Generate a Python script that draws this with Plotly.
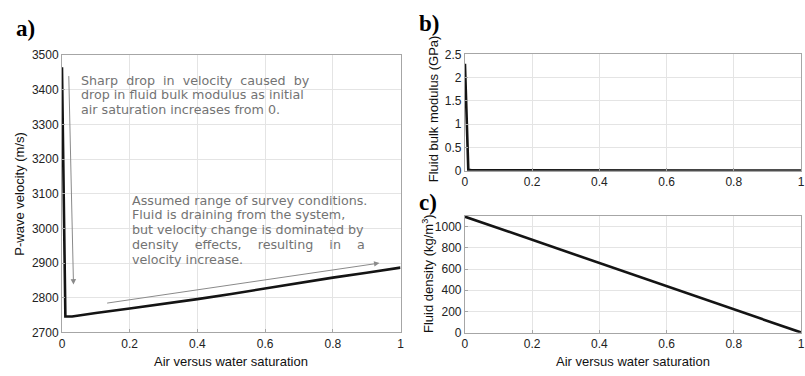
import plotly.graph_objects as go

# ---- data ----
sat_v = [0, 0.01, 0.03, 0.05, 0.1, 0.2, 0.3, 0.4, 0.5, 0.6, 0.7, 0.8, 0.9, 1.0]
vel = [3465, 2746, 2746, 2749, 2756, 2769, 2782, 2796, 2811, 2827, 2842, 2858, 2872, 2887]

sat_k = [0, 0.01, 0.02, 0.2, 0.4, 0.6, 0.8, 1.0]
bulk = [2.3, 0.02, 0.01, 0.005, 0.003, 0.002, 0.0015, 0.001]

sat_r = [0, 0.2, 0.4, 0.6, 0.8, 1.0]
dens = [1093, 875, 656, 437, 219, 2]

x_ticks = [0, 0.2, 0.4, 0.6, 0.8, 1]
x_ticklabels = ["0", "0.2", "0.4", "0.6", "0.8", "1"]
v_ticks = [2700, 2800, 2900, 3000, 3100, 3200, 3300, 3400, 3500]
k_ticks = [0, 0.5, 1, 1.5, 2, 2.5]
k_ticklabels = ["0", "0.5", "1", "1.5", "2", "2.5"]
r_ticks = [0, 200, 400, 600, 800, 1000]

NB = "\u00a0"
note1_lines = [
    "Sharp" + NB + " drop" + NB + " in" + NB + " velocity" + NB + " caused" + NB + " by",
    "drop in fluid bulk modulus as initial",
    "air saturation increases from 0.",
]
note2_lines = [
    "Assumed range of survey conditions.",
    "Fluid is draining from the system,",
    "but velocity change is dominated by",
    "density" + NB * 3 + " effects," + NB * 3 + " resulting" + NB * 3 + " in" + NB * 3 + " a",
    "velocity increase.",
]

W, H = 805, 376
def px(x):
    return x / W
def py(y):
    return 1 - y / H

LINE = dict(color="#141414", width=2.6)
fig = go.Figure()
fig.add_trace(go.Scatter(x=sat_v, y=vel, mode="lines", line=LINE, xaxis="x", yaxis="y", showlegend=False))
fig.add_trace(go.Scatter(x=sat_k, y=bulk, mode="lines", line=LINE, xaxis="x2", yaxis="y2", showlegend=False))
fig.add_trace(go.Scatter(x=sat_r, y=dens, mode="lines", line=LINE, xaxis="x3", yaxis="y3", showlegend=False))

TICKFONT = dict(family="Liberation Sans, Arial", size=12, color="#222")
common = dict(showline=True, mirror=True, linecolor="#a6a6a6", linewidth=1,
              ticks="inside", ticklen=3, tickcolor="#a6a6a6",
              showgrid=True, gridcolor="#e4e4e4", gridwidth=1,
              zeroline=False, tickfont=TICKFONT, fixedrange=True)

fig.update_layout(
    width=W, height=H, margin=dict(l=0, r=0, t=0, b=0),
    paper_bgcolor="white", plot_bgcolor="white",
    xaxis=dict(domain=[px(59.5), px(401)], range=[0, 1], tickvals=x_ticks, ticktext=x_ticklabels, anchor="y", **common),
    yaxis=dict(domain=[py(338), py(50)], range=[2700, 3500], tickvals=v_ticks, anchor="x", **common),
    xaxis2=dict(domain=[px(466), 1.0], range=[0, 1], tickvals=x_ticks, ticktext=x_ticklabels, anchor="y2", **common),
    yaxis2=dict(domain=[py(170), py(49.3)], range=[0, 2.5], tickvals=k_ticks, ticktext=k_ticklabels, anchor="x2", **common),
    xaxis3=dict(domain=[px(466), 1.0], range=[0, 1], tickvals=x_ticks, ticktext=x_ticklabels, anchor="y3", **common),
    yaxis3=dict(domain=[py(338.3), py(217)], range=[0, 1100], tickvals=r_ticks, anchor="x3", **common),
)

TITLEFONT = dict(family="Liberation Sans, Arial", size=13, color="#111")
NOTEFONT = dict(family="DejaVu Sans", size=12.7, color="#737373")
PANELFONT = dict(family="Liberation Serif, Times New Roman", size=23, color="#000")

def label(text, x, y, font, angle=0, xanchor="center"):
    return dict(text=text, x=px(x), y=py(y), xref="paper", yref="paper",
                xanchor=xanchor, yanchor="middle", textangle=angle,
                showarrow=False, font=font)

ann = []
ann.append(label("<b>a)</b>", 11, 22, PANELFONT, xanchor="left"))
ann.append(label("<b>b)</b>", 418, 17, PANELFONT, xanchor="left"))
ann.append(label("<b>c)</b>", 418, 203, PANELFONT, xanchor="left"))
ann.append(label("P-wave velocity (m/s)", 17, 194, TITLEFONT, angle=-90))
ann.append(label("Fluid bulk modulus (GPa)", 434, 106, TITLEFONT, angle=-90))
ann.append(label("Fluid density (kg/m<sup>3</sup>)", 428, 277, TITLEFONT, angle=-90))
ann.append(label("Air versus water saturation", 230, 368, TITLEFONT))
ann.append(label("Air versus water saturation", 636, 368, TITLEFONT))
for i, t in enumerate(note1_lines):
    ann.append(label(t, 76.5, 76 + 15.3 * i, NOTEFONT, xanchor="left"))
for i, t in enumerate(note2_lines):
    ann.append(label(t, 128.5, 200.7 + 15.3 * i, NOTEFONT, xanchor="left"))
ann.append(dict(x=0.034, y=2838, ax=0.02, ay=3444, xref="x", yref="y", axref="x", ayref="y", text="",
                showarrow=True, arrowhead=2, arrowsize=1.1, arrowwidth=1, arrowcolor="#8a8a8a"))
ann.append(dict(x=0.938, y=2900, ax=0.129, ay=2784, xref="x", yref="y", axref="x", ayref="y", text="",
                showarrow=True, arrowhead=2, arrowsize=1.1, arrowwidth=1, arrowcolor="#8a8a8a"))
fig.update_layout(annotations=ann)

fig.write_html("out.html")
